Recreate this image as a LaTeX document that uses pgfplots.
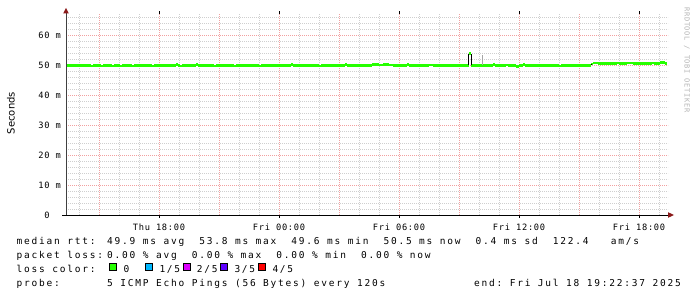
\documentclass[border=0pt]{standalone}
\usepackage{pgfplots}
\pgfplotsset{compat=1.18}
\usepackage{fontspec}
\setmainfont{DejaVu Sans}
\newfontfamily\legfont[LetterSpace=18.7,WordSpace={1.0,0,0}]{DejaVu Sans Mono}
\newfontfamily\tickfont[LetterSpace=8.7,WordSpace={1.0,0,0}]{DejaVu Sans Mono}
\newfontfamily\wmfont[LetterSpace=10,WordSpace={1.0,0,0}]{DejaVu Sans Mono}
\definecolor{mgrid}{HTML}{F2A0A0}
\definecolor{mingrid}{HTML}{CFCFCF}
\definecolor{arrowred}{HTML}{8B1A1A}
\definecolor{rttgreen}{HTML}{26FF00}
\definecolor{lc1}{HTML}{00B8FF}
\definecolor{lc2}{HTML}{DD00FF}
\definecolor{lc3}{HTML}{5E00FF}
\definecolor{lc4}{HTML}{FF0000}
\definecolor{wm}{HTML}{B4B4B4}
\begin{document}
\begin{tikzpicture}[x=1bp,y=1bp]
\useasboundingbox (0,0) rectangle (697,297);
\begin{axis}[
  at={(66bp,82bp)}, anchor=south west,
  scale only axis, width=602bp, height=201bp,
  xmin=-10.65, xmax=19.45, ymin=0, ymax=67,
  axis line style={draw=none},
  clip=false,
  xtick={-9,-6,...,18},
  xticklabels={},
  minor xtick={-10,-9,...,19},
  extra x ticks={-6,0,6,12,18},
  extra x tick labels={Thu 18:00,Fri 00:00,Fri 06:00,Fri 12:00,Fri 18:00},
  extra x tick style={grid=none, major tick length=3bp, tick style={black}},
  ytick={0,10,...,60},
  yticklabels={{0\phantom{~m}},10~m,20~m,30~m,40~m,50~m,60~m},
  minor ytick={2,4,...,66},
  major grid style={mgrid, dash pattern=on 1bp off 1bp, line width=0.8bp},
  minor grid style={mingrid, dash pattern=on 1bp off 1bp, line width=0.8bp},
  grid=both,
  tick align=outside,
  major tick length=0pt, minor tick length=0pt,
  ytick style={draw=none},
  xticklabel style={font=\tickfont\fontsize{8.7bp}{10bp}\selectfont, anchor=base, yshift=-12bp, inner sep=0pt},
  yticklabel style={font=\tickfont\fontsize{8.7bp}{10bp}\selectfont, anchor=east, xshift=-5bp, inner sep=0pt},
]
\addplot[rttgreen, line width=2.5bp, jump mark left, mark=none] coordinates {
(-10.62,49.85) (-9.40,49.65) (-9.30,49.85) (-8.90,49.65) (-8.80,49.85)
(-8.35,49.65) (-8.25,49.85) (-7.95,49.70) (-7.85,49.85) (-7.35,49.65)
(-7.25,49.85) (-6.35,49.70) (-6.25,49.85) (-5.15,50.15) (-5.05,49.85)
(-4.95,49.70) (-4.85,49.85) (-4.15,50.15) (-4.05,49.85) (-3.25,49.65)
(-3.15,49.85) (-2.25,49.65) (-2.15,49.85) (-1.00,49.75) (-0.90,49.85)
(0.60,50.10) (0.70,49.85) (2.00,49.70) (2.10,49.85) (3.30,50.10)
(3.40,49.85) (4.65,50.10) (5.00,49.95) (5.20,50.15) (5.50,50.00)
(5.70,49.85) (6.40,50.10) (6.50,49.85) (7.50,50.00) (7.70,49.85)
(9.50,53.80) (9.62,49.90) (10.70,50.15) (10.80,49.90) (11.35,50.05)
(11.45,49.90) (11.85,49.45) (12.00,49.90) (12.20,50.10) (12.30,49.90)
(14.00,49.60) (14.10,49.90) (15.60,50.40) (15.70,50.75) (15.95,50.45)
(16.90,50.70) (17.00,50.45) (17.40,50.75) (17.70,50.45) (18.65,50.75)
(18.75,50.45) (19.05,50.80) (19.30,50.50) (19.38,50.50)
};
\addplot[black, line width=1bp, mark=none] coordinates {(9.48,49.9) (9.48,53.6)};
\addplot[black, line width=1bp, mark=none] coordinates {(9.64,49.9) (9.64,53.6)};
\addplot[black, line width=1bp, mark=none] coordinates {(15.60,49.9) (15.60,50.5)};
\addplot[gray!70, line width=0.8bp, mark=none] coordinates {(10.17,49.9) (10.17,53.3)};
\end{axis}
% axis lines and arrows
\draw[black!75, line width=1bp] (66,82) -- (66,284);
\draw[black, line width=1bp] (62,82) -- (668,82);
\fill[arrowred] (674,82) -- (668,84.8) -- (668,79.2) -- cycle;
\fill[arrowred] (66,289) -- (63.2,283.5) -- (68.8,283.5) -- cycle;
\node[rotate=90, font=\fontsize{10bp}{12bp}\selectfont, inner sep=0pt] at (11,184) {Seconds};
\node[rotate=-90, font=\wmfont\fontsize{7bp}{8bp}\selectfont, text=wm, inner sep=0pt] at (687,237) {RRDTOOL / TOBI OETIKER};
\begin{scope}[every node/.style={font=\legfont\fontsize{9.5bp}{11bp}\selectfont, inner sep=0pt}]
\node[anchor=base west] at (16.5,53) {median~rtt:};
\node[anchor=base west] at (107,53) {49.9~ms~avg~~53.8~ms~max~~49.6~ms~min~~50.5~ms~now~~0.4~ms~sd~~122.4~~~am/s};
\node[anchor=base west] at (16.5,39) {packet~loss:};
\node[anchor=base west] at (107,39) {0.00~\%~avg~~0.00~\%~max~~0.00~\%~min~~0.00~\%~now};
\node[anchor=base west] at (16.5,25) {loss~color:};
\node[anchor=base west] at (16.5,11) {probe:};
\node[anchor=base west] at (107,11) {5~ICMP~Echo~Pings~(56~Bytes)~every~120s};
\node[anchor=base east] at (681,11) {end:~Fri~Jul~18~19:22:37~2025};
\foreach \bx/\tx/\lab/\col in {109/123.3/{0}/rttgreen, 145.7/159.3/{1/5}/lc1, 183/196.7/{2/5}/lc2, 220.7/234.3/{3/5}/lc3, 258.3/272.3/{4/5}/lc4}{
  \filldraw[fill=\col, draw=black, line width=0.8bp] (\bx,27) rectangle ++(7,7);
  \node[anchor=base west] at (\tx,25) {\lab};
}
\end{scope}
\end{tikzpicture}
\end{document}
